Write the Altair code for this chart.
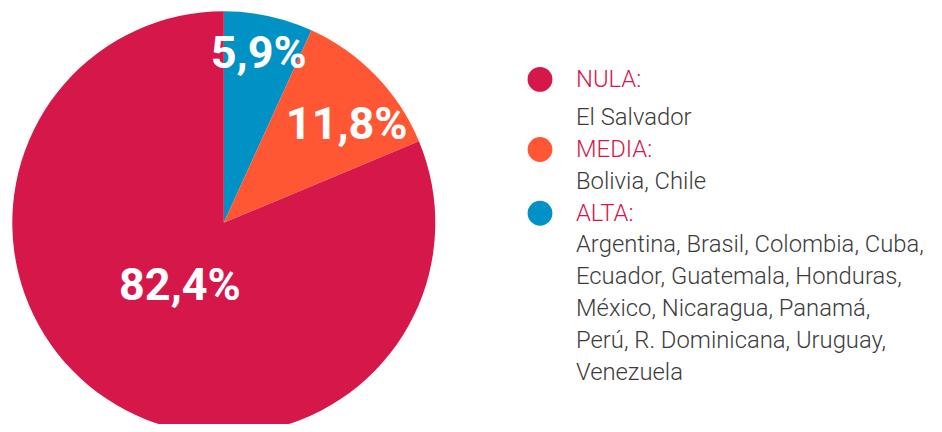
import math
import altair as alt
import pandas as pd

# ---- pie data (clockwise from 12 o'clock) ----
categorias = ["ALTA", "MEDIA", "NULA"]
valores = [6.8, 11.9, 81.3]          # slice sizes as drawn
etiquetas = ["5,9%", "11,8%", "82,4%"]
colores = ["#0092C4", "#FF5733", "#D5174A"]

# ---- legend text ----
lineas = [
    "NULA:",
    "El Salvador",
    "MEDIA:",
    "Bolivia, Chile",
    "ALTA:",
    "Argentina, Brasil, Colombia, Cuba,",
    "Ecuador, Guatemala, Honduras,",
    "México, Nicaragua, Panamá,",
    "Perú, R. Dominicana, Uruguay,",
    "Venezuela",
]
tipos = ["cat", "pais", "cat", "pais", "cat", "pais", "pais", "pais", "pais", "pais"]
cat_linea = ["NULA", "", "MEDIA", "", "ALTA", "", "", "", "", ""]

pie_df = pd.DataFrame({
    "categoria": categorias,
    "valor": valores,
    "etiqueta": etiquetas,
    "orden": list(range(len(categorias))),
})
leg_df = pd.DataFrame({
    "texto": lineas,
    "tipo": tipos,
    "categoria": cat_linea,
    "fila": list(range(len(lineas))),
})

CX, CY, R = 215.8, 214.8, 211.5
ROJO = "#D5174A"

color_scale = alt.Scale(domain=categorias, range=colores)
theta_scale = alt.Scale(domain=[0, 100], range=[0, 2 * math.pi])
y_scale = alt.Scale(domain=[0, 9], range=[85.1, 372], nice=False, zero=False)

base = (
    alt.Chart(pie_df)
    .transform_window(fin="sum(valor)", sort=[alt.SortField("orden")], frame=[None, 0])
    .transform_calculate(inicio="datum.fin - datum.valor", medio="datum.fin - datum.valor / 2")
)

arc = base.mark_arc(outerRadius=R).encode(
    theta=alt.Theta("inicio:Q", scale=theta_scale),
    theta2="fin:Q",
    color=alt.Color("categoria:N", scale=color_scale, legend=None),
    x=alt.value(CX),
    y=alt.value(CY),
)

def etiqueta(cat, radio, dx, dy):
    return base.transform_filter(alt.datum.categoria == cat).mark_text(
        radius=radio, dx=dx, dy=dy, fontSize=45, fontWeight="bold", font="Roboto",
        color="white", align="center", baseline="alphabetic",
    ).encode(
        theta=alt.Theta("medio:Q", scale=theta_scale),
        text="etiqueta:N",
        x=alt.value(CX),
        y=alt.value(CY),
    )

lab_alta = etiqueta("ALTA", 160, 1, 2)
lab_media = etiqueta("MEDIA", 160, 8, 28)
lab_nula = etiqueta("NULA", 90, 6, 2)

leg_base = alt.Chart(leg_df).transform_calculate(
    pos_cat="datum.fila - (datum.fila == 0 ? 0.2 : 0)"
)

FS = 23.8

paises = leg_base.transform_filter(alt.datum.tipo == "pais").mark_text(
    align="left", baseline="alphabetic", font="Roboto", fontWeight=300,
    fontSize=FS, color="#3C3C3C",
).encode(
    x=alt.value(568),
    y=alt.Y("fila:Q", scale=y_scale, axis=None),
    text="texto:N",
)

cabeceras = leg_base.transform_filter(alt.datum.tipo == "cat").mark_text(
    align="left", baseline="alphabetic", font="Roboto", fontWeight=300,
    fontSize=FS, color=ROJO,
).encode(
    x=alt.value(568),
    y=alt.Y("pos_cat:Q", scale=y_scale, axis=None),
    text="texto:N",
)

circulos = leg_base.transform_filter(alt.datum.tipo == "cat").transform_calculate(
    pos_circ="datum.pos_cat - 0.23"
).mark_circle(size=616, opacity=1).encode(
    x=alt.value(532),
    y=alt.Y("pos_circ:Q", scale=y_scale, axis=None),
    color=alt.Color("categoria:N", scale=color_scale, legend=None),
)

chart = (
    alt.layer(arc, lab_alta, lab_media, lab_nula, circulos, cabeceras, paises)
    .properties(width=926, height=416, padding=0, autosize=alt.AutoSizeParams(type="none"))
    .configure_view(stroke=None)
)

chart.save("out.html", embed_options={"renderer": "svg", "actions": False})
